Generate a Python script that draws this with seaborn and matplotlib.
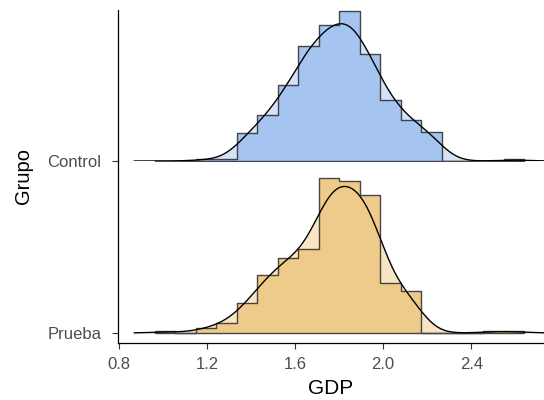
import matplotlib
matplotlib.use("Agg")
import matplotlib.pyplot as plt
import numpy as np
import seaborn as sns

# bin grid (same edges for both groups)
bin_edges = [0.963, 1.056, 1.149, 1.242, 1.335, 1.428, 1.521, 1.614, 1.708,
             1.801, 1.894, 1.987, 2.080, 2.173, 2.267, 2.360, 2.453, 2.547, 2.640]
control_counts = [0, 0, 1, 1, 17, 28, 46, 71, 83, 91, 65, 37, 25, 18, 0, 0, 0, 1]
prueba_counts = [1, 0, 3, 6, 18, 35, 45, 51, 93, 91, 83, 30, 25, 0, 0, 0, 1, 1]
groups = ["Control", "Prueba"]
x_ticks = [0.8, 1.2, 1.6, 2.0, 2.4]

colors = {"Control": ("#a6c4f0", "#d6e3f7"), "Prueba": ("#eecb8a", "#f7e5c4")}
BW = 0.5

sns.set_theme(style="white")
plt.rcParams["font.family"] = ["Liberation Sans", "DejaVu Sans"]

W, H = 544, 400
fig = plt.figure(figsize=(W / 100, H / 100), dpi=100)
left = 118 / W
ax_top = fig.add_axes([left, (H - 161) / H, 1 - left, 151 / H])
ax_bot = fig.add_axes([left, (H - 343) / H, 1 - left, 182 / H])

centers = [(a + b) / 2 for a, b in zip(bin_edges[:-1], bin_edges[1:])]
width = bin_edges[1] - bin_edges[0]


def ridge(ax, counts, name):
    fill, light = colors[name]
    kde_kw = dict(x=centers, weights=counts, bw_adjust=BW, cut=40,
                  clip=(0.87, 2.75), ax=ax)
    sns.kdeplot(fill=True, color=light, alpha=1, linewidth=0, **kde_kw)
    sns.histplot(x=centers, weights=counts, bins=bin_edges, stat="density",
                 element="step", fill=True, color=fill, alpha=1,
                 edgecolor=(0.12, 0.12, 0.12, 0.8), linewidth=1.0, ax=ax)
    sns.kdeplot(color="black", linewidth=1.0, **kde_kw)
    return max(counts) / (sum(counts) * width)


peak_c = ridge(ax_top, control_counts, "Control")
peak_p = ridge(ax_bot, prueba_counts, "Prueba")

ax_top.set_ylim(0, peak_c * 1.01)
px = 155 / peak_p
ax_bot.set_ylim(-10 / px, 172 / px)

tick_color = "#4d4d4d"
for ax, name in zip([ax_top, ax_bot], groups):
    ax.set_xlim(0.797, 2.73)
    ax.set_facecolor("none")
    ax.set_yticks([0])
    ax.set_yticklabels([name])
    ax.set_ylabel("")
    ax.set_xlabel("")
    for s in ["top", "right"]:
        ax.spines[s].set_visible(False)
    ax.spines["left"].set_color("black")
    ax.spines["left"].set_linewidth(0.9)
    ax.tick_params(axis="y", length=4, width=0.8, color="#333333",
                   labelcolor=tick_color, labelsize=12, pad=8, left=True)

ax_top.spines["bottom"].set_visible(False)
ax_top.set_xticks([])

ax_bot.spines["bottom"].set_color("black")
ax_bot.spines["bottom"].set_linewidth(0.9)
ax_bot.set_xticks(x_ticks)
ax_bot.set_xticklabels([f"{v:.1f}" for v in x_ticks])
ax_bot.tick_params(axis="x", length=4, width=0.8, color="#333333",
                   labelcolor=tick_color, labelsize=12, pad=6, bottom=True)

fig.text((118 + W) / 2 / W, 1 - 394.5 / H, "GDP", ha="center", va="baseline",
         fontsize=15, color="black")
fig.text(24 / W, 1 - 176.5 / H, "Grupo", ha="center", va="center",
         rotation=90, fontsize=14.5, color="black")

fig.savefig("out.png", dpi=100)
